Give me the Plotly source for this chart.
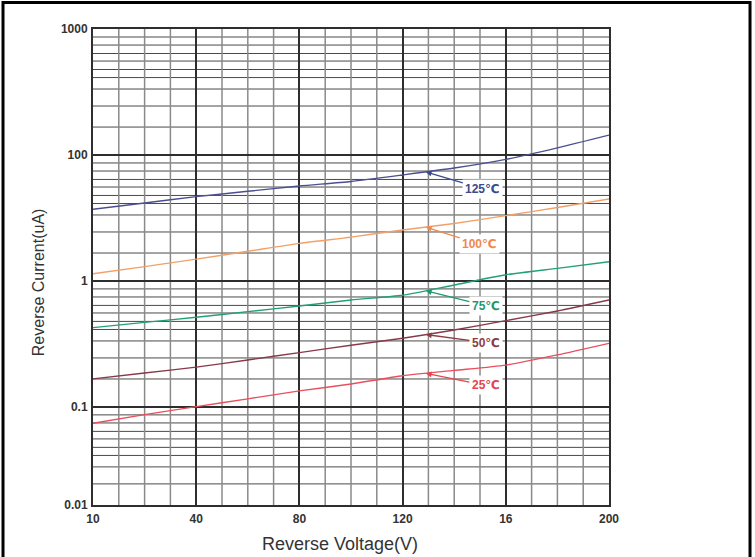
import numpy as np
import plotly.graph_objects as go

# ---------------- data ----------------
VOLTAGE = [0, 20, 40, 60, 80, 100, 120, 140, 160, 180, 200]
I_125 = [3.71, 4.16, 4.67, 5.15, 5.68, 6.16, 6.94, 7.88, 9.24, 11.4, 14.4]
I_100 = [1.14, 1.30, 1.49, 1.72, 1.99, 2.23, 2.54, 2.86, 3.30, 3.83, 4.48]
I_75 = [0.426, 0.469, 0.515, 0.571, 0.633, 0.707, 0.770, 0.929, 1.12, 1.26, 1.42]
I_50 = [0.167, 0.186, 0.207, 0.236, 0.270, 0.309, 0.351, 0.408, 0.484, 0.578, 0.707]
I_25 = [0.0743, 0.0869, 0.1005, 0.116, 0.134, 0.152, 0.177, 0.195, 0.215, 0.259, 0.320]

SERIES_NAMES = ["125℃", "100℃", "75℃", "50℃", "25℃"]
SERIES_VALUES = [I_125, I_100, I_75, I_50, I_25]

X_TICKVALS = [0, 40, 80, 120, 160, 200]
X_TICKTEXT = ["10", "40", "80", "120", "16", "200"]
Y_BOTTOM_LOG = -1.778
Y_TICKVALS = [100, 10, 1, 0.1, 10 ** Y_BOTTOM_LOG]
Y_TICKTEXT = ["1000", "100", "1", "0.1", "0.01"]

# ---------------- styling ----------------
LINE_COLORS = ["#4a4f8f", "#f3a068", "#22a07a", "#86394a", "#e8505e"]
TEXT_COLORS = ["#3d4a8c", "#ee8a4c", "#1f9a70", "#8c3c42", "#e0474f"]
LABEL_AT_V = 129
LABEL_OFFSETS = [(57, 17), (54, 17), (60, 15), (60, 8), (60, 12)]

# minor horizontal grid lines: fractions of a decade below each decade top
GRID_FRACTIONS = [0.063, 0.127, 0.194, 0.254, 0.321, 0.385, 0.476, 0.611, 0.778]
decade_tops = [2, 1, 0, -1]
y_minor_vals = [10 ** (d - f) for d in decade_tops for f in GRID_FRACTIONS
                if d - f >= Y_BOTTOM_LOG + 1e-3]
x_minor = [v for v in range(0, 201, 10) if v % 40 != 0]

fig = go.Figure()
for name, vals, col in zip(SERIES_NAMES, SERIES_VALUES, LINE_COLORS):
    fig.add_trace(go.Scatter(
        x=VOLTAGE, y=vals, mode="lines", name=name,
        line=dict(color=col, width=1.4, shape="spline", smoothing=0.6),
        showlegend=False, hoverinfo="x+y+name"))

for name, vals, tcol, (ax, ay) in zip(SERIES_NAMES, SERIES_VALUES, TEXT_COLORS, LABEL_OFFSETS):
    ylog = float(np.interp(LABEL_AT_V, VOLTAGE, np.log10(vals)))
    fig.add_annotation(
        x=LABEL_AT_V, y=ylog, xref="x", yref="y",
        text=f"<b>{name}</b>", showarrow=True, ax=ax, ay=ay,
        arrowhead=2, arrowsize=0.9, arrowwidth=1.3, arrowcolor=tcol,
        font=dict(family="Liberation Sans, Arial, DejaVu Sans", size=12, color=tcol),
        bgcolor="white", borderpad=2, standoff=0)

# minor grid lines (drawn beneath the major gridlines)
for yv in y_minor_vals:
    fig.add_shape(type="line", xref="paper", x0=0, x1=1, yref="y", y0=yv, y1=yv,
                  line=dict(color="#4a4a4a", width=1), layer="below")
for xv in x_minor:
    fig.add_shape(type="line", xref="x", x0=xv, x1=xv, yref="paper", y0=0, y1=1,
                  line=dict(color="#8a8a8a", width=1.5), layer="below")

AXIS_FONT = dict(family="Liberation Sans, Arial", size=12, color="#333333", weight="bold")

fig.update_xaxes(
    range=[0, 200], tickmode="array", tickvals=X_TICKVALS, ticktext=X_TICKTEXT,
    tickfont=AXIS_FONT, ticks="", ticklabelstandoff=2,
    showgrid=True, gridcolor="#2e2e2e", gridwidth=2,
    showline=True, linecolor="#2e2e2e", linewidth=2, mirror=True, zeroline=False)

fig.update_yaxes(
    type="log", range=[Y_BOTTOM_LOG - 0.0005, 2.0005],
    tickmode="array", tickvals=Y_TICKVALS, ticktext=Y_TICKTEXT,
    tickfont=AXIS_FONT, ticks="", ticklabelstandoff=1,
    showgrid=True, gridcolor="#2e2e2e", gridwidth=2,
    showline=True, linecolor="#2e2e2e", linewidth=2, mirror=True, zeroline=False)

# axis titles
fig.add_annotation(text="Reverse Voltage(V)", xref="paper", yref="paper",
                   x=0.4787, y=-0.082, xanchor="center", yanchor="middle",
                   showarrow=False,
                   font=dict(family="Liberation Sans, Arial", size=18, color="#333333"))
fig.add_annotation(text="Reverse Current(uA)", xref="paper", yref="paper",
                   x=-0.1066, y=0.468, xanchor="center", yanchor="middle",
                   showarrow=False, textangle=-90,
                   font=dict(family="Liberation Sans, Arial", size=16, color="#333333"))

# outer frame of the picture
fig.add_shape(type="rect", xref="paper", yref="paper",
              x0=-0.1744, x1=1.2733, y0=-0.25, y1=1.0557,
              line=dict(color="black", width=3), fillcolor="rgba(0,0,0,0)", layer="above")

fig.update_layout(
    width=755, height=557,
    margin=dict(l=93, r=146, t=29, b=52),
    paper_bgcolor="white", plot_bgcolor="white",
    font=dict(family="Liberation Sans, Arial"),
)

fig.write_html("out.html", config={"displayModeBar": False},
               post_script="document.body.style.margin='0';")
